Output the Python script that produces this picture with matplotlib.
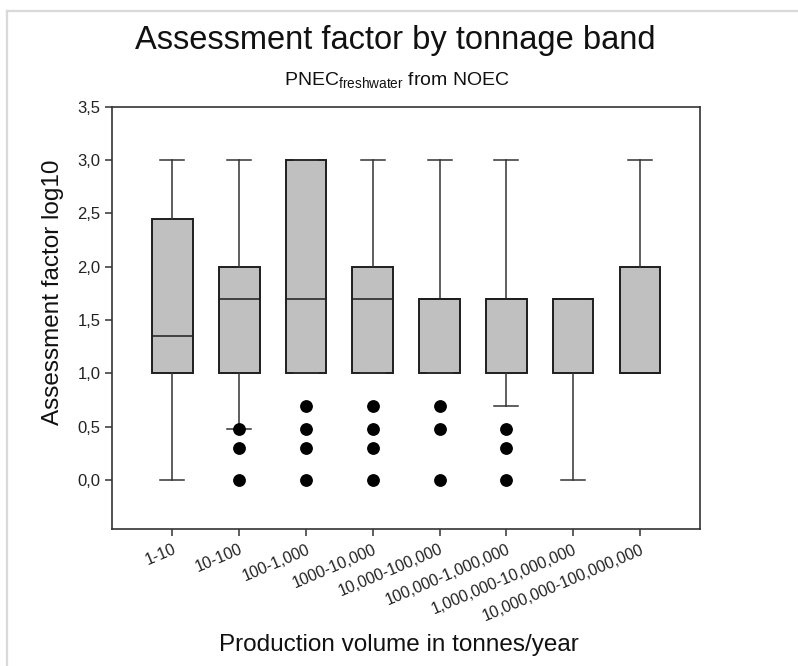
import matplotlib
matplotlib.use("Agg")
import matplotlib.pyplot as plt
from matplotlib.lines import Line2D
from matplotlib.ticker import FuncFormatter

plt.rcParams['font.family'] = ['Liberation Sans', 'DejaVu Sans']
plt.rcParams['mathtext.fontset'] = 'custom'
plt.rcParams['mathtext.rm'] = 'Liberation Sans'
plt.rcParams['mathtext.it'] = 'Liberation Sans:italic'
plt.rcParams['mathtext.bf'] = 'Liberation Sans:bold'

# ---- data (log10 assessment factor) ----
categories = ["1-10", "10-100", "100-1,000", "1000-10,000", "10,000-100,000",
              "100,000-1,000,000", "1,000,000-10,000,000", "10,000,000-100,000,000"]
whisker_low = [0.0, 0.477, 1.0, 1.0, 1.0, 0.699, 0.0, 1.0]
q1_values = [1.0, 1.0, 1.0, 1.0, 1.0, 1.0, 1.0, 1.0]
medians = [1.35, 1.699, 1.699, 1.699, 1.699, 1.699, 1.699, 1.0]
q3_values = [2.45, 2.0, 3.0, 2.0, 1.699, 1.699, 1.699, 2.0]
whisker_high = [3.0, 3.0, 3.0, 3.0, 3.0, 3.0, 1.699, 3.0]
outliers = [
    [],
    [0.477, 0.301, 0.0],
    [0.699, 0.477, 0.301, 0.0],
    [0.699, 0.477, 0.301, 0.0],
    [0.699, 0.477, 0.0],
    [0.477, 0.301, 0.0],
    [],
    [],
]
yticks = [0.0, 0.5, 1.0, 1.5, 2.0, 2.5, 3.0, 3.5]

title = "Assessment factor by tonnage band"
subtitle = r"PNEC$_{\mathrm{freshwater}}$ from NOEC"
xlabel = "Production volume in tonnes/year"
ylabel = "Assessment factor log10"

W, H = 798, 666
fig = plt.figure(figsize=(W / 100, H / 100), dpi=100)
fig.patch.set_facecolor('white')

# axes placement (pixels)
left, right, top, bottom = 111.7, 700.0, 106.7, 529.3
ax = fig.add_axes([left / W, 1 - bottom / H, (right - left) / W, (bottom - top) / H])

stats = []
for i, c in enumerate(categories):
    stats.append(dict(label=c, med=medians[i], q1=q1_values[i], q3=q3_values[i],
                      whislo=whisker_low[i], whishi=whisker_high[i],
                      fliers=outliers[i]))

positions = list(range(1, len(categories) + 1))
edge = '#1e1e1e'
ax.bxp(stats, positions=positions, widths=0.61, capwidths=0.36,
       patch_artist=True, showfliers=True,
       boxprops=dict(facecolor='#c0c0c0', edgecolor=edge, linewidth=1.4),
       medianprops=dict(color=edge, linewidth=1.1),
       whiskerprops=dict(color='#333333', linewidth=1.1),
       capprops=dict(color='#333333', linewidth=1.1),
       flierprops=dict(marker='o', markerfacecolor='black', markeredgecolor='black',
                       markersize=8.2, linestyle='none'))

ax.set_xlim(0.09, 8.9)
ax.set_ylim(-0.46, 3.5)
ax.set_yticks(yticks)
ax.yaxis.set_major_formatter(FuncFormatter(lambda v, p: f"{v:.1f}".replace('.', ',')))
ax.set_xticks(positions)
ax.set_xticklabels(categories, rotation=23, ha='right', va='top',
                   rotation_mode='anchor', fontsize=11.5)

for s in ax.spines.values():
    s.set_color('#333333')
    s.set_linewidth(1.2)
ax.tick_params(axis='y', direction='out', length=5, width=1.1, color='#333333',
               labelsize=12, labelcolor='#222222', pad=3)
ax.tick_params(axis='x', direction='out', length=5, width=1.1, color='#333333',
               labelcolor='#222222', pad=4)

ax.set_ylabel(ylabel, fontsize=17.5, color='#111111')
ax.yaxis.set_label_coords(-0.081, 0.56)

fig.text(395 / W, 1 - 49.3 / H, title, fontsize=23.5, ha='center', va='baseline',
         color='#111111')
fig.text(397 / W, 1 - 85 / H, subtitle, fontsize=14, ha='center', va='baseline',
         color='#111111')
fig.text(399 / W, 1 - 651 / H, xlabel, fontsize=17.5, ha='center', va='baseline',
         color='#111111')

# light gray frame lines (top and left)
fig.add_artist(Line2D([7 / W, 7 / W], [0, 1 - 11 / H], transform=fig.transFigure,
                      color='#d9d9d9', linewidth=1.6))
fig.add_artist(Line2D([7 / W, 1], [1 - 11 / H, 1 - 11 / H], transform=fig.transFigure,
                      color='#d9d9d9', linewidth=1.6))

fig.savefig("out.png", dpi=100)
